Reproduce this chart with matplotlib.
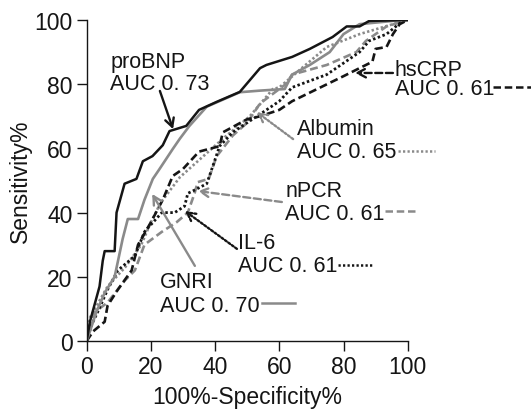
import matplotlib
matplotlib.use("Agg")
import matplotlib.pyplot as plt
from matplotlib.lines import Line2D

plt.rcParams['font.family'] = ['Liberation Sans', 'DejaVu Sans']

# ---- data ----
probnp_x = [0, 0.5, 1, 4, 5, 5.6, 8.7, 9.3, 11.8, 15.5, 17.5, 20.5, 23.7, 25.8, 31, 35, 40.5, 47.7, 54, 56, 64, 69.5, 76.6, 81, 85, 88, 100]
probnp_y = [0, 3, 6, 17, 25, 28, 28, 40, 49, 50.5, 56, 57.6, 61, 65.4, 67, 72, 74.5, 77.6, 85, 86, 88.5, 91, 94.7, 98, 98, 99.7, 100]

gnri_x = [0, 3, 5.6, 8.7, 11.2, 12.8, 16, 18, 20.6, 22.7, 26.8, 29, 32, 37.4, 47.7, 54, 61.7, 64, 69.5, 75.7, 80, 85, 98.4, 100]
gnri_y = [0, 9, 15, 20, 31.8, 38, 38, 44, 50.5, 53.6, 59.8, 63, 67, 73, 77.5, 78, 78.5, 83, 86, 90, 95.6, 98.7, 100, 100]

hscrp_x = [0, 2, 5.6, 6.5, 9.7, 14, 16, 20, 23.7, 26.8, 30, 35, 41.4, 42.4, 49.8, 54, 60, 64, 80, 85, 89, 90, 93.4, 95.4, 97.5, 100]
hscrp_y = [0, 3, 6, 11, 16, 22, 30, 37, 44, 51.4, 53.6, 59, 60.7, 65, 69, 70, 72, 74.7, 82.5, 85, 87, 91, 91.6, 95.6, 98.7, 100]

albumin_x = [0, 0.3, 6.5, 12, 17, 20, 23, 29, 42.4, 50.8, 58, 60, 67, 74.8, 85, 95.4, 100]
albumin_y = [0, 6, 17, 23, 30, 37, 43, 51, 63, 70, 78.5, 79, 85, 91.6, 95.6, 98.7, 100]

npcr_x = [0, 2.5, 6.5, 12, 15, 18, 23.4, 28, 31.5, 33.6, 34.6, 38, 40.5, 42.4, 45.5, 50, 54, 62, 64, 74.8, 84, 87, 93.4, 100]
npcr_y = [0, 9, 12, 19, 22, 30, 34, 37, 40, 46, 49.5, 50.5, 57.6, 60, 64, 68, 74, 80, 83, 86, 90, 93.5, 98, 100]

il6_x = [0, 1.5, 3.4, 6.5, 9.7, 15, 18, 23.4, 27.4, 30.5, 31.5, 33.6, 37.4, 39.3, 41.4, 45.5, 56, 60, 64, 74.8, 85, 88, 93.4, 98.4, 100]
il6_y = [0, 5, 9, 16, 22, 26.5, 34, 40, 40, 42, 46, 47, 49, 54.5, 60.7, 65, 72, 74.7, 79, 83, 90, 93.5, 95.6, 99.7, 100]

names = ["proBNP", "hsCRP", "Albumin", "nPCR", "IL-6", "GNRI"]
aucs = ["0. 73", "0. 61", "0. 65", "0. 61", "0. 61", "0. 70"]

ticks = [0, 20, 40, 60, 80, 100]

BLACK = "#151515"
GRAY = "#8a8a8a"
FS = 15.5
TFS = 16.5

fig = plt.figure(figsize=(5.31, 4.10), dpi=100)
ax = fig.add_axes([86.7 / 531, (410 - 342) / 410, 321 / 531, 321 / 410])

dash = (0, (3, 1.5))
dot = (0, (0.9, 0.9))

ax.plot(npcr_x, npcr_y, color=GRAY, lw=1.9, linestyle=dash, zorder=2)
ax.plot(albumin_x, albumin_y, color=GRAY, lw=1.9, linestyle=dot, zorder=2)
ax.plot(il6_x, il6_y, color=BLACK, lw=2.0, linestyle=dot, zorder=3)
ax.plot(hscrp_x, hscrp_y, color=BLACK, lw=1.9, linestyle=dash, zorder=3)
ax.plot(gnri_x, gnri_y, color=GRAY, lw=1.9, zorder=4)
ax.plot(probnp_x, probnp_y, color=BLACK, lw=1.8, zorder=5)

ax.set_xlim(0, 100)
ax.set_ylim(0, 100)
ax.set_xticks(ticks)
ax.set_yticks(ticks)
ax.tick_params(direction='out', length=7.2, width=1.0, labelsize=TFS, pad=3, colors=BLACK)
for s in ['top', 'right']:
    ax.spines[s].set_visible(False)
for s in ['left', 'bottom']:
    ax.spines[s].set_linewidth(1.0)
    ax.spines[s].set_color(BLACK)

ax.set_xlabel("100%-Specificity%", fontsize=TFS, color=BLACK, labelpad=5)
ax.set_ylabel("Sensitivity%", fontsize=TFS, color=BLACK, labelpad=2)

# annotations: text x, baseline1, baseline2, sample x0, x1, sample y, color, style, tail, head
ann = [
    (7.3, 85.4, 78.5, None, None, None, BLACK, '-', (22.8, 77.9), (26.9, 66.0)),
    (96.0, 82.9, 76.9, 126.6, 138.5, 79.1, BLACK, dash, (95.4, 83.5), (83.6, 83.5)),
    (65.5, 64.5, 57.3, 97.0, 108.5, 59.2, GRAY, dot, (64.3, 62.9), (53.0, 71.3)),
    (61.8, 45.2, 38.0, 92.9, 103.2, 40.5, GRAY, dash, (60.8, 43.3), (34.7, 46.7)),
    (47.1, 29.0, 21.8, 78.3, 88.9, 23.7, BLACK, dot, (46.8, 28.7), (30.6, 40.5)),
    (22.8, 16.8, 9.3, 54.6, 64.9, 11.8, GRAY, '-', (33.7, 23.4), (20.4, 45.8)),
]

for (name, auc, a) in zip(names, aucs, ann):
    tx, b1, b2, sx0, sx1, sy, col, ls, tail, head = a
    ax.text(tx, b1, name, fontsize=FS, va='baseline', ha='left', color=BLACK, clip_on=False)
    ax.text(tx, b2, "AUC " + auc, fontsize=FS, va='baseline', ha='left', color=BLACK, clip_on=False)
    if sx0 is not None:
        ax.add_line(Line2D([sx0, sx1], [sy, sy], color=col, lw=1.8, linestyle=ls, clip_on=False))
    ax.annotate("", xy=head, xytext=tail, annotation_clip=False,
                arrowprops=dict(arrowstyle='->,head_length=0.6,head_width=0.32', color=col, lw=1.7,
                                linestyle=ls, shrinkA=0, shrinkB=0))

fig.savefig("out.png", dpi=100)
